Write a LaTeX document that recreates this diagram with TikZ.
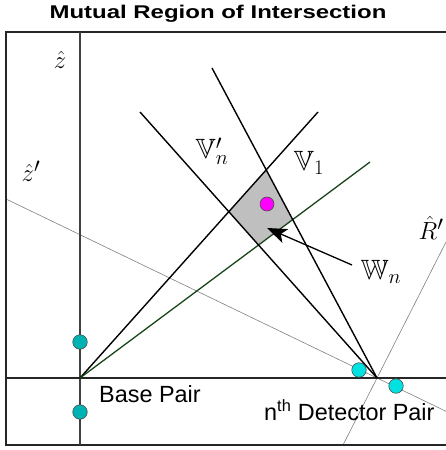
\documentclass[tikz,border=0pt]{standalone}
\usepackage{fontspec}
\setmainfont{Liberation Sans}
\usepackage{amssymb}
\usetikzlibrary{arrows.meta}
\definecolor{baseteal}{RGB}{0,178,178}
\definecolor{detcyan}{RGB}{0,225,225}
\definecolor{srcmag}{RGB}{255,0,255}
\definecolor{raygreen}{RGB}{25,70,25}
\begin{document}
\begin{tikzpicture}[x=1bp,y=-1bp,
  frame/.style={draw=black!85, line width=1.3bp},
  axis/.style={draw=black!75, line width=1.8bp},
  ray/.style={draw=black, line width=1.4bp},
  thinline/.style={draw=black!50, line width=0.6bp},
  greenray/.style={draw=raygreen, line width=1.3bp},
  basedot/.style={circle, draw=black!70, line width=0.6bp, fill=baseteal, minimum size=14.5bp, inner sep=0pt},
  detdot/.style={circle, draw=black!70, line width=0.6bp, fill=detcyan, minimum size=14.5bp, inner sep=0pt},
  lab/.style={font=\fontsize{23.5}{26}\selectfont, inner sep=0pt},
  mlab/.style={font=\fontsize{28}{30}\selectfont, inner sep=0pt}]
\useasboundingbox (0,0) rectangle (446,450);
% key points
\coordinate (base) at (80,378);
\coordinate (det) at (377,378);
\coordinate (aEnd) at (318,112);
\coordinate (gEnd) at (370,162);
\coordinate (cEnd) at (212,68);
\coordinate (dEnd) at (140,112);
\coordinate (zpL) at (6,199);
\coordinate (zpR) at (446,411.3);
\coordinate (rpB) at (343,445);
\coordinate (rpT) at (446,242);
% shaded region
\coordinate (q1) at (intersection of base--aEnd and det--cEnd);
\coordinate (q2) at (intersection of base--aEnd and det--dEnd);
\coordinate (q3) at (intersection of base--gEnd and det--dEnd);
\coordinate (q4) at (intersection of base--gEnd and det--cEnd);
\fill[black!25] (q1) -- (q2) -- (q3) -- (q4) -- cycle;
% thin rotated axes
\draw[thinline] (zpL) -- (zpR);
\draw[thinline] (rpB) -- (rpT);
% frame and axes
\draw[frame] (446,32) -- (6,32) -- (6,445) -- (446,445);
\draw[axis] (80,32) -- (80,445);
\draw[frame] (6,378) -- (446,378);
% rays
\draw[ray] (base) -- (aEnd);
\draw[greenray] (base) -- (gEnd);
\draw[ray] (det) -- (cEnd);
\draw[ray] (det) -- (dEnd);
% detectors
\node[basedot] (b1) at (80,342) {};
\node[basedot] (b2) at (80,412) {};
\node[detdot] (d1) at (359,370) {};
\node[detdot] (d2) at (396,386) {};
\node[circle, draw=black!70, line width=0.6bp, fill=srcmag, minimum size=14bp, inner sep=0pt] (src) at (267,204) {};
% labels
\node[anchor=base, inner sep=0pt] (title) at (218,18.5)
  {\scalebox{1.3}[1]{\fontsize{18.5}{20}\selectfont\bfseries Mutual Region of Intersection}};
\node[mlab] (zhat) at (60,60) {$\hat{z}$};
\node[mlab] (zphat) at (31,171) {$\hat{z}'$};
\node[mlab] (Rphat) at (431,228) {$\hat{R}'$};
\node[mlab] (Vn) at (212,151) {$\mathbb{V}'_n$};
\node[mlab] (V1) at (309,163) {$\mathbb{V}_1$};
\node[mlab] (Wn) at (381,272) {$\mathbb{W}_n$};
\node[lab, anchor=base west] (bp) at (99,402) {Base Pair};
\node[lab, anchor=base west] (dp) at (264,420) {n\textsuperscript{th} Detector Pair};
% arrow
\coordinate (arrTail) at (352,265);
\coordinate (arrTip) at (267,228);
\draw[line width=1.3bp, -{Stealth[length=20bp,width=15bp,inset=5bp]}] (arrTail) -- (arrTip);
\end{tikzpicture}
\end{document}
